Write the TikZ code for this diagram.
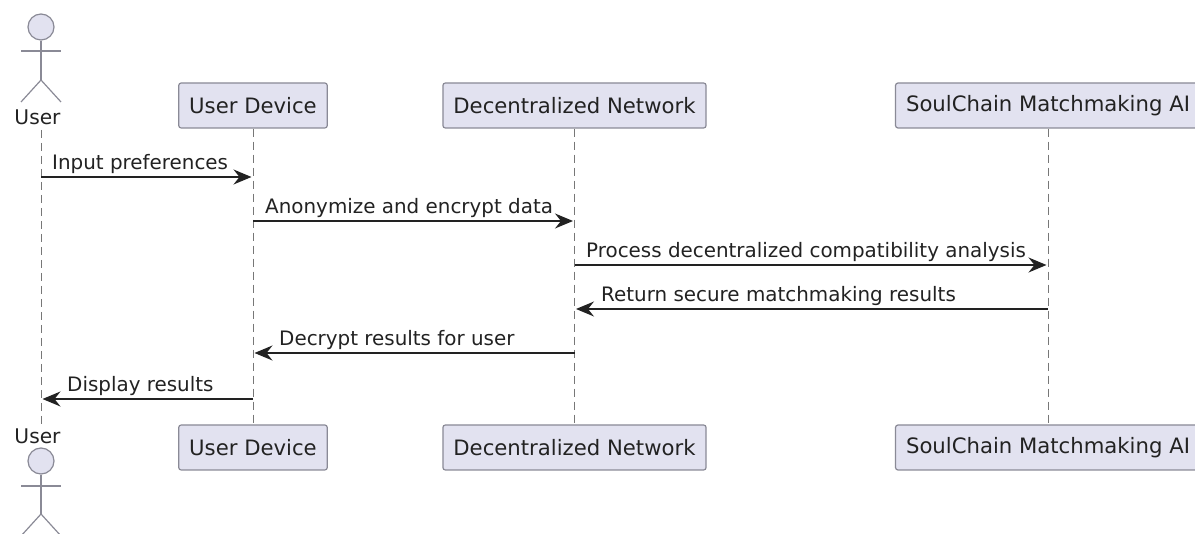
\documentclass[tikz,border=0pt]{standalone}
\usepackage{fontspec}
\setmainfont{DejaVu Sans}
\usetikzlibrary{positioning,calc,arrows.meta}
\definecolor{boxfill}{HTML}{E2E2F0}
\definecolor{boxline}{HTML}{8A8A96}
\definecolor{lifeline}{HTML}{777777}
\definecolor{inktext}{HTML}{222222}
\tikzset{
  partbox/.style={draw=boxline,fill=boxfill,line width=1.2pt,rounded corners=2.5pt,inner xsep=10.5pt,
    minimum height=45pt,text=inktext,font=\fontsize{21.2}{24}\selectfont},
  acthead/.style={circle,draw=boxline,fill=boxfill,line width=1.2pt,minimum size=26pt,inner sep=0pt},
  actlabel/.style={text=inktext,inner sep=0pt,font=\fontsize{20.2}{24}\selectfont},
  actline/.style={draw=boxline,line width=1.2pt},
  lifedash/.style={lifeline,line width=1pt,dash pattern=on 8pt off 5pt},
  msgline/.style={-{Stealth[length=18pt,width=15pt,inset=6pt]},line width=1.4pt,inktext,shorten >=1.5pt},
  msglabel/.style={anchor=base west,inner sep=0pt,text=inktext,font=\fontsize{19.9}{24}\selectfont}
}
\begin{document}
\begin{tikzpicture}[x=1pt,y=-1pt]
\useasboundingbox (0,0) rectangle (1195,534);
% participants
\node (device) [partbox] at (253,105.5) {User Device};
\node (network) [partbox] at (574.5,105.5) {Decentralized Network};
\node (soul) [partbox] at (1048,105.5) {SoulChain Matchmaking AI};
\node (deviceb) [partbox] at (253,447.5) {User Device};
\node (networkb) [partbox] at (574.5,447.5) {Decentralized Network};
\node (soulb) [partbox] at (1048,447.5) {SoulChain Matchmaking AI};
% actor on top
\node (head) [acthead] at (41,27) {};
\node (user) [actlabel,anchor=base] at (37.5,125) {User};
\coordinate (hip) at (41,80);
\coordinate (armL) at (21,51);
\coordinate (armR) at (61,51);
\coordinate (legL) at (21,102);
\coordinate (legR) at (61,102);
\draw[actline] (head)--(hip);
\draw[actline] (armL)--(armR);
\draw[actline] (legL)--(hip)--(legR);
% actor below
\node (userb) [actlabel,anchor=base] at (37.5,443.5) {User};
\node (headb) [acthead] at (41,461) {};
\coordinate (hipb) at (41,514);
\coordinate (armLb) at (21,486);
\coordinate (armRb) at (61,486);
\coordinate (legLb) at (21,536);
\coordinate (legRb) at (61,536);
\draw[actline] (headb)--(hipb);
\draw[actline] (armLb)--(armRb);
\draw[actline] (legLb)--(hipb)--(legRb);
% lifelines
\coordinate (ua) at (41,130);
\coordinate (ub) at (41,426);
\draw[lifedash] (ua)--(ub);
\draw[lifedash] (device)--(deviceb);
\draw[lifedash] (network)--(networkb);
\draw[lifedash] (soul)--(soulb);
% message ends
\coordinate (m1a) at (41,177);  \coordinate (m1b) at (253,177);
\coordinate (m2a) at (253,221); \coordinate (m2b) at (574.5,221);
\coordinate (m3a) at (574.5,265); \coordinate (m3b) at (1048,265);
\coordinate (m4a) at (1048,309);\coordinate (m4b) at (574.5,309);
\coordinate (m5a) at (574.5,353); \coordinate (m5b) at (253,353);
\coordinate (m6a) at (253,399); \coordinate (m6b) at (41,399);
\draw[msgline] (m1a)--(m1b);
\draw[msgline] (m2a)--(m2b);
\draw[msgline] (m3a)--(m3b);
\draw[msgline] (m4a)--(m4b);
\draw[msgline] (m5a)--(m5b);
\draw[msgline] (m6a)--(m6b);
% message labels
\node (l1) [msglabel] at (52,170) {Input preferences};
\node (l2) [msglabel] at (265,214) {Anonymize and encrypt data};
\node (l3) [msglabel] at (586,258) {Process decentralized compatibility analysis};
\node (l4) [msglabel] at (601,302) {Return secure matchmaking results};
\node (l5) [msglabel] at (279,346) {Decrypt results for user};
\node (l6) [msglabel] at (67,392) {Display results};
\end{tikzpicture}
\end{document}
